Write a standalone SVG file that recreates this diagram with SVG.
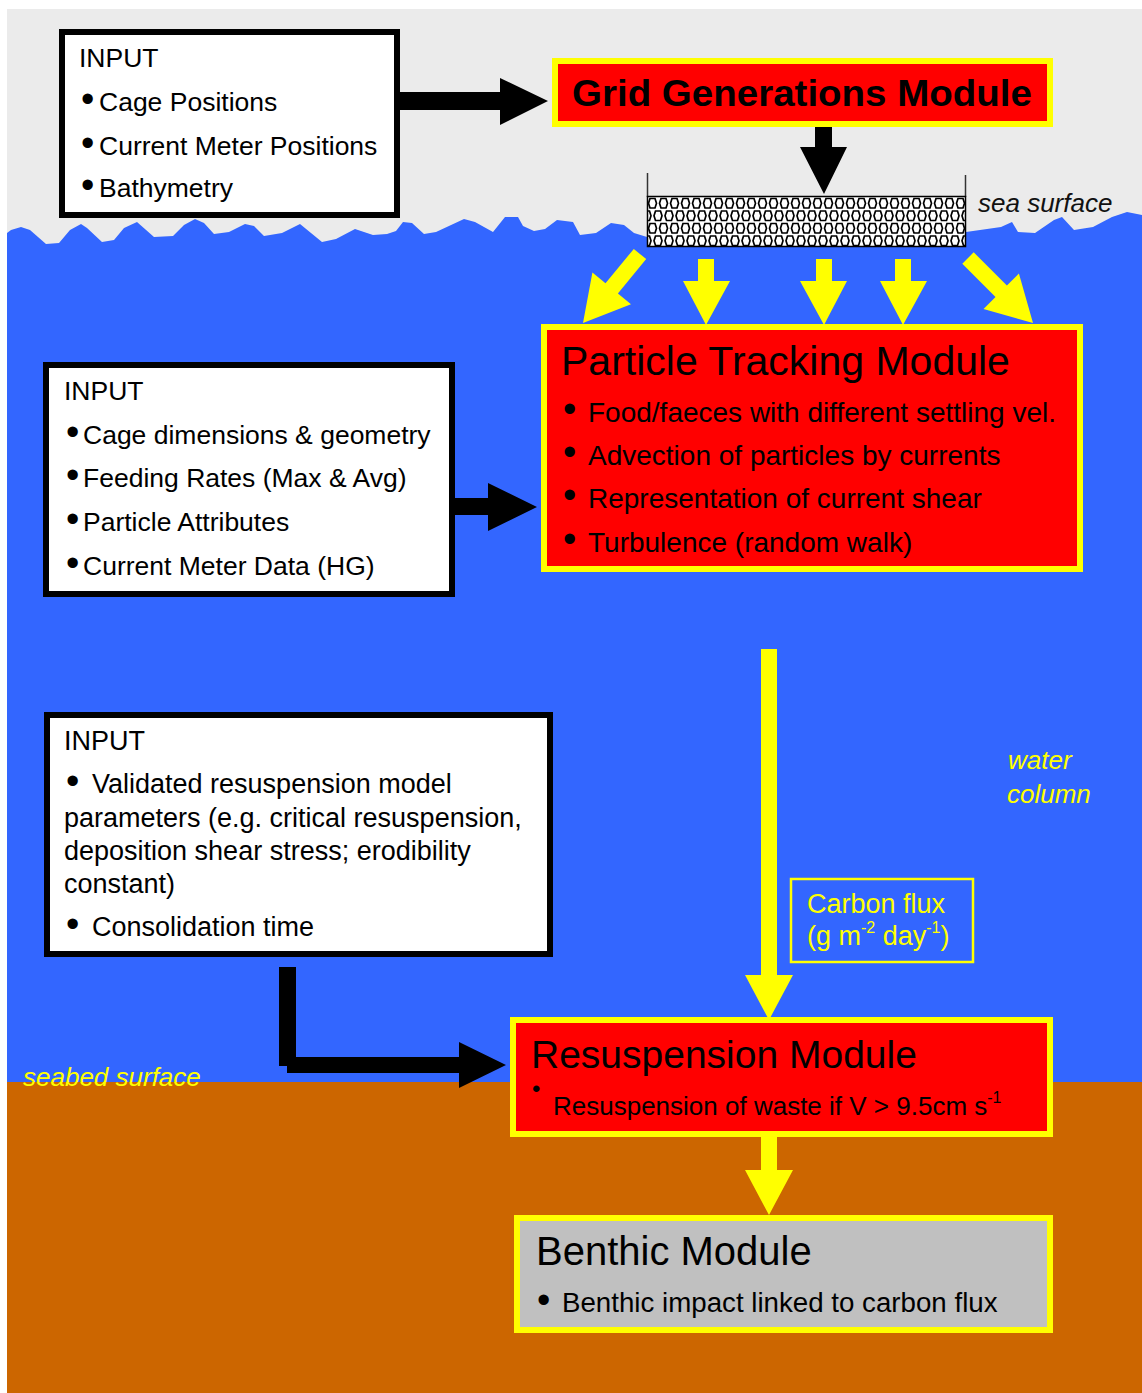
<svg xmlns="http://www.w3.org/2000/svg" width="1142" height="1393" viewBox="0 0 1142 1393">
<style>
  text { font-family: "Liberation Sans", Arial, sans-serif; fill: #000; }
  .inbox { fill: #fff; stroke: #000; stroke-width: 6; }
  .mod { fill: #ff0000; stroke: #ffff00; stroke-width: 6; }
  .body { font-size: 26.5px; }
  .title { font-size: 40px; }
  .ital { font-style: italic; font-size: 26px; }
  .yel { fill: #ffff00; }
  .blk { fill: #000; }
  .bul { font-size: 38px; }
</style>
<defs>
  <pattern id="mesh" patternUnits="userSpaceOnUse" x="647" y="197" width="11" height="25">
    <rect width="11" height="25" fill="#fff"/>
    <path d="M1.5,6.25 L3,1.5 L8,1.5 L9.5,6.25 L8,11 L3,11 Z M-4,18.75 L-2.5,14 L2.5,14 L4,18.75 L2.5,23.5 L-2.5,23.5 Z M7,18.75 L8.5,14 L13.5,14 L15,18.75 L13.5,23.5 L8.5,23.5 Z" fill="none" stroke="#000" stroke-width="1.7"/>
  </pattern>
</defs>

<g id="background">
  <rect x="0" y="0" width="1142" height="1393" fill="#fff"/>
  <rect x="7" y="9" width="1135" height="260" fill="#ebebeb"/>
  <path fill="#3366ff" d="M7,233 L11,230 L21,227 L30,230 L46,244 L59,243 L70,230 L81,224 L87,228 L102,242 L114,240 L124,228 L137,222 L154,237 L173,236 L184,225 L195,219 L204,223 L214,234 L229,232 L245,224 L254,226 L264,236 L282,233 L300,224 L311,233 L322,242 L336,239 L355,229 L373,235 L387,234 L396,231 L403,222 L412,223 L424,234 L436,232 L464,219 L475,222 L493,232 L505,217 L518,217 L523,226 L534,231 L545,229 L557,220 L573,222 L580,235 L596,233 L611,223 L624,225 L634,233 L647,237 L966,232 L1001,227 L1012,222 L1018,232 L1035,233 L1054,220 L1062,217 L1074,230 L1093,227 L1112,217 L1127,212 L1142,215 L1142,1090 L7,1090 Z"/>
  <rect x="7" y="1082" width="1135" height="311" fill="#cc6600"/>
  <text class="ital" x="978" y="212" style="fill:#111">sea surface</text>
  <text class="ital yel" x="1008" y="769">water</text>
  <text class="ital yel" x="1007" y="803">column</text>
  <text class="ital yel" x="23" y="1086">seabed surface</text>
</g>

<g id="cage-grid">
  <line x1="647.5" y1="173" x2="647.5" y2="197" stroke="#333" stroke-width="1.5"/>
  <line x1="965.5" y1="175" x2="965.5" y2="197" stroke="#333" stroke-width="1.5"/>
  <rect x="647.5" y="196.5" width="318" height="50" fill="url(#mesh)" stroke="#000" stroke-width="1.5"/>
</g>

<g id="connectors">
  <polygon class="blk" points="400,92 500,92 500,78 548,101 500,125 500,110 400,110"/>
  <polygon class="blk" points="815,127 832,127 832,147 847,147 824,194 800,147 815,147"/>
  <polygon class="blk" points="455,498 488,498 488,483 537,507 488,531 488,515 455,515"/>
  <polygon class="blk" points="279,967 296,967 296,1057 459,1057 459,1042 506,1065 459,1088 459,1073 287,1073 287,1066 279,1066"/>
  <polygon class="yel" points="646.2,259.1 617.9,293.4 631,304.2 583,323 592.4,272.4 605.5,283.2 633.8,248.9"/>
  <polygon class="yel" points="698,259 714,259 714,281 730,281 706,325 683,281 698,281"/>
  <polygon class="yel" points="816,259 832,259 832,281 847,281 824,325 800,281 816,281"/>
  <polygon class="yel" points="895,259 911,259 911,281 927,281 903,325 880,281 895,281"/>
  <polygon class="yel" points="973.7,252.3 1006.9,285.5 1018.9,273.5 1033,323 983.5,308.9 995.5,296.9 962.3,263.7"/>
  <polygon class="yel" points="761,649 777,649 777,975 793,975 769,1020 745,975 761,975"/>
  <polygon class="yel" points="761,1137 777,1137 777,1170 793,1170 769,1215 745,1170 761,1170"/>
  <g id="carbon-flux-label">
    <rect x="791" y="879" width="182" height="83" fill="none" stroke="#ffff00" stroke-width="2.5"/>
    <text class="yel" x="807" y="913" font-size="27">Carbon flux</text>
    <text class="yel" x="807" y="945" font-size="27">(g m<tspan font-size="16" dy="-12">-2</tspan><tspan dy="12"> day</tspan><tspan font-size="16" dy="-12">-1</tspan><tspan dy="12">)</tspan></text>
  </g>
</g>

<g id="input-grid">
  <rect class="inbox" x="62" y="32" width="335" height="183"/>
  <text class="body" x="79" y="67">INPUT</text>
  <text class="bul" x="81" y="112">•</text>
  <text class="body" x="99" y="111">Cage Positions</text>
  <text class="bul" x="81" y="156">•</text>
  <text class="body" x="99" y="155">Current Meter Positions</text>
  <text class="bul" x="81" y="198">•</text>
  <text class="body" x="99" y="197">Bathymetry</text>
</g>

<g id="grid-module">
  <rect class="mod" x="555" y="61" width="495" height="63" stroke-width="5"/>
  <text x="572" y="106" font-size="36" font-weight="bold" textLength="460" lengthAdjust="spacingAndGlyphs">Grid Generations Module</text>
</g>

<g id="input-particle">
  <rect class="inbox" x="46" y="365" width="406" height="229"/>
  <text class="body" x="64" y="400">INPUT</text>
  <text class="bul" x="66" y="445">•</text>
  <text class="body" x="83" y="444">Cage dimensions &amp; geometry</text>
  <text class="bul" x="66" y="488">•</text>
  <text class="body" x="83" y="487">Feeding Rates (Max &amp; Avg)</text>
  <text class="bul" x="66" y="532">•</text>
  <text class="body" x="83" y="531">Particle Attributes</text>
  <text class="bul" x="66" y="576">•</text>
  <text class="body" x="83" y="575">Current Meter Data (HG)</text>
</g>

<g id="particle-module">
  <rect class="mod" x="544" y="327" width="536" height="242"/>
  <text x="561" y="375" font-size="41">Particle Tracking Module</text>
  <g font-size="28">
    <text class="bul" x="563" y="422">•</text>
    <text x="588" y="422">Food/faeces with different settling vel.</text>
    <text class="bul" x="563" y="465">•</text>
    <text x="588" y="465">Advection of particles by currents</text>
    <text class="bul" x="563" y="508">•</text>
    <text x="588" y="508">Representation of current shear</text>
    <text class="bul" x="563" y="552">•</text>
    <text x="588" y="552">Turbulence (random walk)</text>
  </g>
</g>

<g id="input-resuspension">
  <rect class="inbox" x="47" y="715" width="503" height="239"/>
  <g font-size="27">
    <text x="64" y="750">INPUT</text>
    <text class="bul" x="66" y="794">•</text>
    <text x="92" y="793">Validated resuspension model</text>
    <text x="64" y="827">parameters (e.g. critical resuspension,</text>
    <text x="64" y="860">deposition shear stress; erodibility</text>
    <text x="64" y="893">constant)</text>
    <text class="bul" x="66" y="937">•</text>
    <text x="92" y="936">Consolidation time</text>
  </g>
</g>

<g id="resuspension-module">
  <rect class="mod" x="513" y="1020" width="537" height="114"/>
  <text x="531" y="1068" font-size="39">Resuspension Module</text>
  <text x="532" y="1097" font-size="24">•</text>
  <text x="553" y="1115" font-size="26">Resuspension of waste if V &gt; 9.5cm s<tspan font-size="16" dy="-12">-1</tspan></text>
</g>

<g id="benthic-module">
  <rect x="517" y="1218" width="533" height="112" fill="#c0c0c0" stroke="#ffff00" stroke-width="6"/>
  <text class="title" x="536" y="1265">Benthic Module</text>
  <text class="bul" x="537" y="1313">•</text>
  <text x="562" y="1312" font-size="27.7">Benthic impact linked to carbon flux</text>
</g>
</svg>
